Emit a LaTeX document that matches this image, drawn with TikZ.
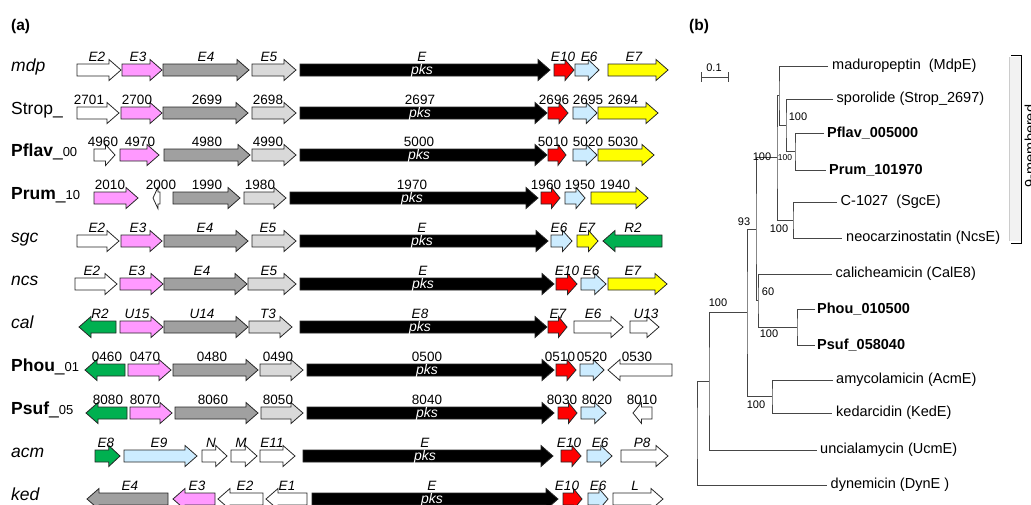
\documentclass[tikz,border=0pt]{standalone}
\usepackage{fontspec}
\setmainfont{Liberation Sans}
\definecolor{pk}{RGB}{255,153,255}
\definecolor{dg}{RGB}{160,160,160}
\definecolor{lg}{RGB}{217,217,217}
\definecolor{rd}{RGB}{255,0,0}
\definecolor{lb}{RGB}{204,236,255}
\definecolor{yl}{RGB}{255,255,0}
\definecolor{gr}{RGB}{0,176,80}
\definecolor{treec}{RGB}{70,70,70}
\newcounter{gcnt}
\tikzset{
 genebox/.style={draw=black!85, line width=0.8pt, line join=miter},
 glab/.style={font=\fontsize{13.5}{14}\selectfont, inner sep=0pt, anchor=base},
 pkslab/.style={font=\fontsize{14}{14}\selectfont\itshape, text=white, inner sep=0pt, anchor=base},
 rowlab/.style={font=\fontsize{17.5}{18}\selectfont, inner sep=0pt, anchor=base west},
 panel/.style={font=\fontsize{15.5}{16}\selectfont\bfseries, inner sep=0pt, anchor=base west},
 tree/.style={draw=treec, line width=1pt},
 leaf/.style={font=\fontsize{14.5}{15}\selectfont, inner sep=0pt, anchor=west},
 boot/.style={font=\fontsize{11}{11}\selectfont, inner sep=0pt},
}
\newcommand\ry{70}
\newcommand\geneR[6][0.45]{%
 \pgfmathsetmacro\hlen{min(12,#1*(#3-#2))}%
 \pgfmathsetmacro\hb{#3-\hlen}%
 \draw[genebox, fill=#4] (#2,\ry-6) -- (\hb,\ry-6) -- (\hb,\ry-10.5) -- (#3,\ry) -- (\hb,\ry+10.5) -- (\hb,\ry+6) -- (#2,\ry+6) -- cycle;
 \stepcounter{gcnt}%
 \node[glab] (lab\arabic{gcnt}) at (#5,\ry-9) {#6};
}
\newcommand\geneL[6][0.45]{%
 \pgfmathsetmacro\hlen{min(12,#1*(#3-#2))}%
 \pgfmathsetmacro\hb{#2+\hlen}%
 \draw[genebox, fill=#4] (#3,\ry-6) -- (\hb,\ry-6) -- (\hb,\ry-10.5) -- (#2,\ry) -- (\hb,\ry+10.5) -- (\hb,\ry+6) -- (#3,\ry+6) -- cycle;
 \stepcounter{gcnt}%
 \node[glab] (lab\arabic{gcnt}) at (#5,\ry-9) {#6};
}
\newcommand\genePKS[4]{%
 \geneR{#1}{#2}{black}{#3}{#4}%
 \node[pkslab] (pks\arabic{gcnt}) at (#3,\ry+4.5) {pks};
}
\begin{document}
\begin{tikzpicture}[x=1pt,y=-1pt]
\useasboundingbox (0,0) rectangle (1031,504);
\node[panel] (pa) at (11,30) {(a)};
\node[panel] (pb) at (689,30) {(b)};

% row labels
\node[rowlab] (r1) at (11,71.5) {\textit{mdp}};
\node[rowlab] (r2) at (11,114.5) {Strop\_};
\node[rowlab] (r3) at (11,156.5) {\textbf{Pflav}\_{\fontsize{13}{13}\selectfont 00}};
\node[rowlab] (r4) at (11,199.5) {\textbf{Prum}\_{\fontsize{13}{13}\selectfont 10}};
\node[rowlab] (r5) at (11,242.5) {\textit{sgc}};
\node[rowlab] (r6) at (11,285.5) {\textit{ncs}};
\node[rowlab] (r7) at (11,328.5) {\textit{cal}};
\node[rowlab] (r8) at (11,371.5) {\textbf{Phou}\_{\fontsize{13}{13}\selectfont 01}};
\node[rowlab] (r9) at (11,414.5) {\textbf{Psuf}\_{\fontsize{13}{13}\selectfont 05}};
\node[rowlab] (r10) at (11,457.5) {\textit{acm}};
\node[rowlab] (r11) at (11,500.5) {\textit{ked}};

% mdp
\renewcommand\ry{70}
\geneR{77}{121}{white}{97}{\textit{E2}}
\geneR{122}{162}{pk}{138}{\textit{E3}}
\geneR{163}{249}{dg}{206}{\textit{E4}}
\geneR{252}{296}{lg}{269}{\textit{E5}}
\genePKS{300}{550}{422}{\textit{E}}
\geneR{554}{574}{rd}{563}{\textit{E10}}
\geneR{575}{599}{lb}{589}{\textit{E6}}
\geneR{608}{668}{yl}{634}{\textit{E7}}
% Strop
\renewcommand\ry{113}
\geneR{77}{119}{white}{89}{2701}
\geneR{121}{162}{pk}{137}{2700}
\geneR{163}{248}{dg}{207}{2699}
\geneR{252}{296}{lg}{268}{2698}
\genePKS{300}{547}{420}{2697}
\geneR{548}{568}{rd}{554}{2696}
\geneR{573}{597}{lb}{588}{2695}
\geneR{598}{658}{yl}{623}{2694}
% Pflav
\renewcommand\ry{155}
\geneR{94}{115}{white}{103}{4960}
\geneR{120}{159}{pk}{140}{4970}
\geneR{164}{250}{dg}{207}{4980}
\geneR{252}{296}{lg}{268}{4990}
\genePKS{300}{547}{419}{5000}
\geneR{548}{566}{rd}{553}{5010}
\geneR{573}{597}{lb}{588}{5020}
\geneR{598}{654}{yl}{623}{5030}
% Prum
\renewcommand\ry{198}
\geneR{94}{138}{pk}{110}{2010}
\geneL[0.7]{153}{160}{white}{161}{2000}
\geneR{173}{240}{dg}{207}{1990}
\geneR{244}{286}{lg}{260}{1980}
\genePKS{290}{538}{412}{1970}
\geneR{541}{560}{rd}{546}{1960}
\geneR{565}{585}{lb}{580}{1950}
\geneR{591}{648}{yl}{615}{1940}
% sgc
\renewcommand\ry{241}
\geneR{77}{119}{white}{97}{\textit{E2}}
\geneR{121}{162}{pk}{138}{\textit{E3}}
\geneR{164}{248}{dg}{205}{\textit{E4}}
\geneR{252}{296}{lg}{268}{\textit{E5}}
\genePKS{300}{548}{422}{\textit{E}}
\geneR{551}{572}{lb}{559}{\textit{E6}}
\geneR{577}{598}{yl}{587}{\textit{E7}}
\geneL{603}{662}{gr}{633}{\textit{R2}}
% ncs
\renewcommand\ry{284}
\geneR{75}{117}{white}{92}{\textit{E2}}
\geneR{120}{163}{pk}{137}{\textit{E3}}
\geneR{164}{247}{dg}{202}{\textit{E4}}
\geneR{248}{296}{lg}{269}{\textit{E5}}
\genePKS{300}{554}{423}{\textit{E}}
\geneR{556}{577}{rd}{567}{\textit{E10}}
\geneR{581}{606}{lb}{591}{\textit{E6}}
\geneR{608}{667}{yl}{633}{\textit{E7}}
% cal
\renewcommand\ry{327}
\geneL{79}{116}{gr}{100}{\textit{R2}}
\geneR{120}{163}{pk}{137}{\textit{U15}}
\geneR{164}{248}{dg}{202}{\textit{U14}}
\geneR{249}{292}{lg}{268}{\textit{T3}}
\genePKS{300}{547}{420}{\textit{E8}}
\geneR{548}{567}{rd}{558}{\textit{E7}}
\geneR{574}{623}{white}{593}{\textit{E6}}
\geneR{630}{659}{white}{646}{\textit{U13}}
% Phou
\renewcommand\ry{370}
\geneL{85}{125}{gr}{107}{0460}
\geneR{128}{171}{pk}{145}{0470}
\geneR{173}{258}{dg}{212}{0480}
\geneR{260}{303}{lg}{278}{0490}
\genePKS{307}{554}{427}{0500}
\geneR{556}{576}{rd}{560}{0510}
\geneR{580}{604}{lb}{592}{0520}
\geneL{608}{672}{white}{637}{0530}
% Psuf
\renewcommand\ry{413}
\geneL{86}{127}{gr}{108}{8080}
\geneR{130}{172}{pk}{145}{8070}
\geneR{175}{258}{dg}{213}{8060}
\geneR{261}{303}{lg}{278}{8050}
\genePKS{307}{554}{427}{8040}
\geneR{558}{577}{rd}{562}{8030}
\geneR{581}{606}{lb}{597}{8020}
\geneL{633}{652}{white}{642}{8010}
% acm
\renewcommand\ry{456}
\geneR{95}{120}{gr}{106}{\textit{E8}}
\geneR{124}{197}{lb}{159}{\textit{E9}}
\geneR{202}{227}{white}{211}{\textit{N}}
\geneR{231}{257}{white}{241}{\textit{M}}
\geneR{260}{295}{white}{272}{\textit{E11}}
\genePKS{303}{553}{425}{\textit{E}}
\geneR{561}{581}{rd}{569}{\textit{E10}}
\geneR{587}{612}{lb}{600}{\textit{E6}}
\geneR{621}{668}{white}{642}{\textit{P8}}
% ked
\renewcommand\ry{499}
\geneL{87}{168}{dg}{130}{\textit{E4}}
\geneL{173}{215}{pk}{197}{\textit{E3}}
\geneL{218}{263}{white}{245}{\textit{E2}}
\geneL{266}{307}{white}{287}{\textit{E1}}
\genePKS{312}{558}{432}{\textit{E}}
\geneR{563}{582}{rd}{567}{\textit{E10}}
\geneR{588}{608}{lb}{598}{\textit{E6}}
\geneR{613}{663}{white}{635}{\textit{L}}

% ---------- tree (b) ----------
% scale bar
\draw[tree] (701,77) -- (728,77) (701,72) -- (701,82) (728,72) -- (728,82);
\node[boot] (sc) at (714,68) {0.1};

% leaf ends
\coordinate (e1) at (828,66);
\coordinate (e2) at (833,99);
\coordinate (e3) at (824,133);
\coordinate (e4) at (826,170);
\coordinate (e5) at (837,202);
\coordinate (e6) at (842,238);
\coordinate (e7) at (832,274);
\coordinate (e8) at (815,309);
\coordinate (e9) at (815,345);
\coordinate (e10) at (833,380);
\coordinate (e11) at (832,413);
\coordinate (e12) at (817,450);
\coordinate (e13) at (827,485);
\node[leaf] (l1) at (832,66) {maduropeptin\ \ (MdpE)};
\node[leaf] (l2) at (836.5,99) {sporolide (Strop\_2697)};
\node[leaf,font=\fontsize{14.5}{15}\selectfont\bfseries] (l3) at (827,133) {Pflav\_005000};
\node[leaf,font=\fontsize{14.5}{15}\selectfont\bfseries] (l4) at (829,170) {Prum\_101970};
\node[leaf] (l5) at (840.5,202) {C-1027\ \ (SgcE)};
\node[leaf] (l6) at (846,238) {neocarzinostatin (NcsE)};
\node[leaf] (l7) at (835.5,274) {calicheamicin (CalE8)};
\node[leaf,font=\fontsize{14.5}{15}\selectfont\bfseries] (l8) at (817,309) {Phou\_010500};
\node[leaf,font=\fontsize{14.5}{15}\selectfont\bfseries] (l9) at (817,345) {Psuf\_058040};
\node[leaf] (l10) at (836,380) {amycolamicin (AcmE)};
\node[leaf] (l11) at (836,413) {kedarcidin (KedE)};
\node[leaf] (l12) at (820,450) {uncialamycin (UcmE)};
\node[leaf] (l13) at (830.5,485) {dynemicin (DynE\ )};

% internal nodes
\coordinate (H) at (795,151.5);
\coordinate (G) at (786,125.25);
\coordinate (F) at (779,95.6);
\coordinate (I) at (793,220);
\coordinate (E) at (777,157.8);
\coordinate (P) at (797,327);
\coordinate (D) at (758,300.5);
\coordinate (C) at (756,229.15);
\coordinate (AK) at (772,396.5);
\coordinate (B) at (747,312.8);
\coordinate (A) at (709,381.4);
\coordinate (R) at (697,433.2);

\draw[tree] (e3) -| (H) |- (e4);
\draw[tree] (e2) -| (G) |- (H);
\draw[tree] (e1) -| (F) |- (G);
\draw[tree] (e5) -| (I) |- (e6);
\draw[tree] (F) -| (E) |- (I);
\draw[tree] (e8) -| (P) |- (e9);
\draw[tree] (e7) -| (D) |- (P);
\draw[tree] (E) -| (C) |- (D);
\draw[tree] (e10) -| (AK) |- (e11);
\draw[tree] (C) -| (B) |- (AK);
\draw[tree] (B) -| (A) |- (e12);
\draw[tree] (A) -| (R) |- (e13);

% bootstrap values
\node[boot] (b1) at (798,117) {100};
\node[boot,font=\fontsize{8.5}{9}\selectfont] (b2) at (785,158) {100};
\node[boot] (b3) at (762,157) {100};
\node[boot] (b4) at (744,222) {93};
\node[boot] (b5) at (779,229) {100};
\node[boot] (b6) at (768,292) {60};
\node[boot] (b7) at (769,334) {100};
\node[boot] (b8) at (718,303) {100};
\node[boot] (b9) at (756,405) {100};

% bracket
\fill[gray!10] (1009,57) rectangle (1021,241);
\draw[gray!40, line width=0.5pt] (1009,57) -- (1009,241);
\draw[line width=1pt] (1011,55) -- (1021,55) -- (1021,243) -- (1011,243);
\node[font=\fontsize{14.5}{15}\selectfont, inner sep=0pt, anchor=base, rotate=90] (nine) at (1035,146) {9-membered};
\end{tikzpicture}
\end{document}
